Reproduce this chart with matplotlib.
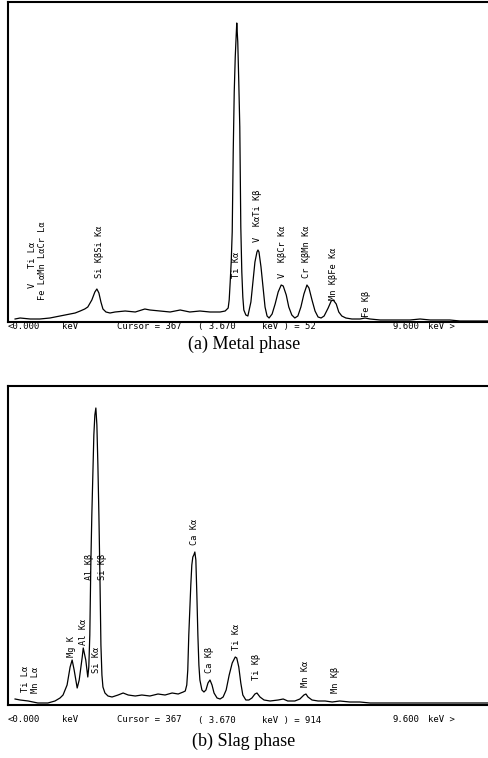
import matplotlib
matplotlib.use("Agg")
import matplotlib.pyplot as plt

# spectrum (a) metal phase: energy in keV, intensity in arbitrary units
energy_a = [0.12, 0.22, 0.42, 0.61, 0.81, 0.91, 1.01, 1.11, 1.21, 1.31,
            1.41, 1.50, 1.56, 1.64, 1.70, 1.74, 1.78, 1.82, 1.86, 1.92,
            2.00, 2.10, 2.30, 2.50, 2.69, 2.79, 2.99, 3.19, 3.39, 3.58,
            3.78, 3.98, 4.18, 4.28, 4.34, 4.36, 4.38, 4.40, 4.42, 4.44,
            4.46, 4.48, 4.50, 4.51, 4.53, 4.55, 4.57, 4.59, 4.61, 4.63,
            4.65, 4.69, 4.73, 4.79, 4.83, 4.87, 4.91, 4.93, 4.95, 4.99,
            5.03, 5.07, 5.11, 5.15, 5.21, 5.27, 5.33, 5.39, 5.43, 5.49,
            5.54, 5.60, 5.66, 5.72, 5.78, 5.84, 5.90, 5.94, 6.00, 6.06,
            6.12, 6.18, 6.24, 6.32, 6.38, 6.42, 6.48, 6.53, 6.59, 6.67,
            6.79, 6.95, 7.05, 7.15, 7.35, 7.54, 7.74, 7.94, 8.14, 8.34,
            8.53, 8.73, 8.93, 9.13, 9.33, 9.50]
counts_a = [3, 4, 3, 3, 4, 5, 6, 7, 8, 9,
            11, 13, 15, 22, 30, 33, 29, 20, 13, 10,
            9, 10, 11, 10, 13, 12, 11, 10, 12, 10,
            11, 10, 10, 11, 14, 22, 40, 60, 90, 170,
            230, 265, 288, 299, 280, 240, 195, 95, 50, 25,
            12, 7, 6, 20, 40, 60, 70, 72, 70, 55,
            35, 15, 6, 4, 8, 18, 30, 37, 36, 27,
            15, 7, 4, 6, 15, 28, 37, 34, 22, 11,
            5, 4, 6, 14, 21, 22, 18, 10, 6, 4,
            3, 3, 4, 3, 2, 2, 2, 2, 3, 2,
            2, 2, 1, 1, 1, 1]

# spectrum (b) slag phase
energy_b = [0.12, 0.22, 0.38, 0.57, 0.77, 0.91, 1.01, 1.07, 1.15, 1.21,
            1.25, 1.29, 1.35, 1.39, 1.45, 1.47, 1.52, 1.56, 1.58, 1.60,
            1.62, 1.64, 1.66, 1.68, 1.70, 1.72, 1.74, 1.76, 1.78, 1.80,
            1.82, 1.84, 1.86, 1.90, 1.96, 2.04, 2.16, 2.26, 2.36, 2.50,
            2.63, 2.79, 2.95, 3.09, 3.23, 3.35, 3.45, 3.49, 3.52, 3.54,
            3.56, 3.58, 3.60, 3.62, 3.64, 3.66, 3.68, 3.70, 3.72, 3.74,
            3.76, 3.78, 3.82, 3.86, 3.90, 3.94, 3.98, 4.02, 4.06, 4.12,
            4.18, 4.24, 4.30, 4.36, 4.42, 4.48, 4.51, 4.55, 4.59, 4.63,
            4.69, 4.75, 4.81, 4.87, 4.91, 4.97, 5.05, 5.17, 5.33, 5.43,
            5.52, 5.66, 5.76, 5.84, 5.88, 5.92, 6.00, 6.12, 6.26, 6.40,
            6.55, 6.75, 6.95, 7.15, 7.35, 7.74, 8.14, 8.53, 8.93, 9.50]
counts_b = [6, 5, 4, 2, 2, 4, 7, 10, 20, 38,
            45, 35, 17, 25, 48, 57, 45, 28, 38, 70,
            140, 190, 230, 270, 290, 297, 280, 240, 190, 130,
            60, 30, 18, 12, 9, 8, 10, 12, 10, 9,
            10, 9, 11, 10, 12, 11, 13, 14, 20, 35,
            70, 95, 120, 140, 148, 150, 153, 145, 110, 70,
            40, 25, 15, 13, 15, 22, 25, 20, 12, 7,
            6, 8, 15, 30, 42, 48, 47, 38, 22, 10,
            5, 5, 7, 11, 12, 8, 5, 4, 5, 6,
            4, 4, 6, 10, 11, 8, 5, 4, 4, 3,
            4, 3, 3, 2, 2, 2, 2, 2, 2, 2]

# peak labels: text, energy (keV), height where the label starts
labels_a = ["V", "Ti L\u03b1", "Fe L\u03b1Mn L\u03b1Cr L\u03b1", "Si K\u03b2Si K\u03b1",
            "Ti K\u03b1", "V  K\u03b1Ti K\u03b2", "V  K\u03b2Cr K\u03b1",
            "Cr K\u03b2Mn K\u03b1", "Mn K\u03b2Fe K\u03b1", "Fe K\u03b2"]
label_kev_a = [0.46, 0.46, 0.67, 1.80, 4.50, 4.93, 5.41, 5.90, 6.42, 7.07]
label_h_a = [34, 54, 22, 44, 44, 80, 44, 44, 22, 5]

labels_b = ["Ti L\u03b1", "Mn L\u03b1", "Mg K", "Al K\u03b1", "Al K\u03b2", "Si K\u03b1",
            "Si K\u03b2", "Ca K\u03b1", "Ca K\u03b2", "Ti K\u03b1", "Ti K\u03b2",
            "Mn K\u03b1", "Mn K\u03b2"]
label_kev_b = [0.32, 0.52, 1.23, 1.47, 1.60, 1.74, 1.86, 3.68, 3.98, 4.50,
               4.91, 5.88, 6.46]
label_h_b = [13, 12, 48, 60, 125, 32, 125, 160, 32, 55, 25, 18, 12]

status_a = ["<0.000", "keV", "Cursor = 367", "( 3.670", "keV ) = 52", "9.600", "keV >"]
status_b = ["<0.000", "keV", "Cursor = 367", "( 3.670", "keV ) = 914", "9.600", "keV >"]
captions = ["(a) Metal phase", "(b) Slag phase"]

W, H = 489, 758
fig = plt.figure(figsize=(W / 100, H / 100), dpi=100)
mono = "DejaVu Sans Mono"

panels = [
    (energy_a, counts_a, labels_a, label_kev_a, label_h_a, status_a, captions[0], 2, 322, 327, 344),
    (energy_b, counts_b, labels_b, label_kev_b, label_h_b, status_b, captions[1], 386, 705, 720, 741),
]
status_x = [8, 62, 117, 198, 262, 393, 428]

for en, ct, labs, lk, lh, stat, cap, top, bot, sy, cy in panels:
    ax = fig.add_axes([8 / W, 1 - bot / H, (W - 8) / W, (bot - top) / H])
    ax.plot(en, ct, color="black", lw=0.9)
    ax.set_xlim(-0.02, 9.505)
    ax.set_ylim(0, bot - top)
    ax.set_xticks([])
    ax.set_yticks([])
    for side in ["left", "top", "bottom"]:
        ax.spines[side].set_linewidth(1.5)
    ax.spines["right"].set_visible(False)
    for t, x, y in zip(labs, lk, lh):
        ax.text(x, y, t, rotation=90, ha="center", va="bottom",
                family=mono, fontsize=6.2, color="black")
    for t, x in zip(stat, status_x):
        fig.text(x / W, 1 - sy / H, t, ha="left", va="center",
                 family=mono, fontsize=6.5, color="black")
    fig.text(244 / W, 1 - cy / H, cap, ha="center", va="center",
             family="Liberation Serif", fontsize=13)

fig.savefig("out.png", dpi=100)
